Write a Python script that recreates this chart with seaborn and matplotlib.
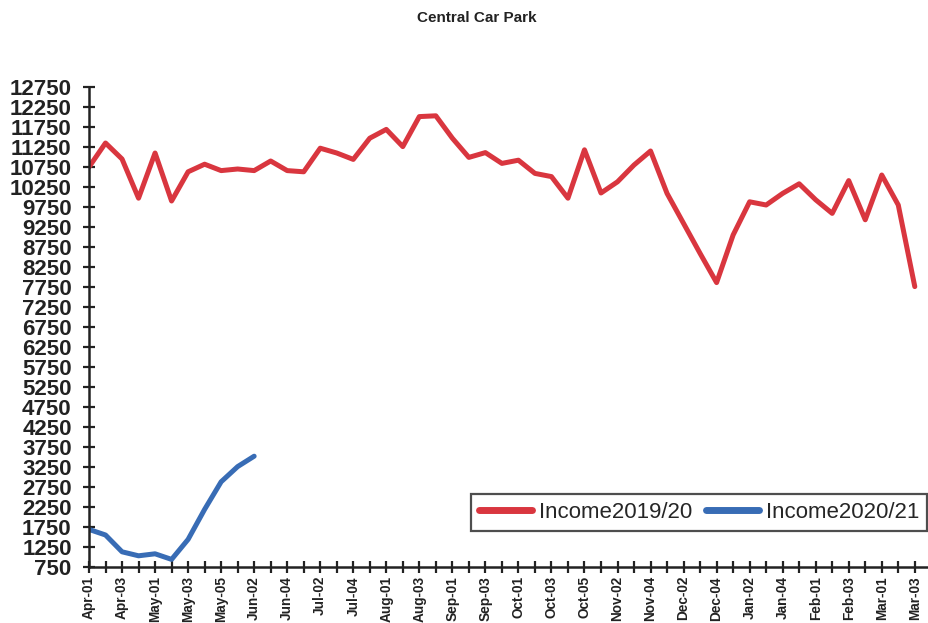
import numpy as np
import pandas as pd
import matplotlib
matplotlib.use('Agg')
import matplotlib.pyplot as plt
import seaborn as sns

# week labels for the financial year (Apr -> Mar)
months = ['Apr', 'May', 'Jun', 'Jul', 'Aug', 'Sep', 'Oct', 'Nov', 'Dec', 'Jan', 'Feb', 'Mar']
weeks_in_month = [4, 5, 4, 5, 4, 4, 5, 4, 4, 5, 4, 3]
weeks = [f'{m}-{w:02d}' for m, n in zip(months, weeks_in_month) for w in range(1, n + 1)]

income_2019 = [10750, 11350, 10950, 9970, 11100, 9900, 10630, 10820, 10660, 10700,
               10660, 10900, 10660, 10630, 11220, 11100, 10940, 11470, 11690, 11260,
               12010, 12030, 11470, 10990, 11110, 10840, 10920, 10590, 10510, 9970,
               11180, 10100, 10380, 10800, 11150, 10090, 9340, 8590, 7860, 9050,
               9880, 9800, 10090, 10330, 9930, 9590, 10410, 9430, 10550, 9800, 7760]
income_2020 = [1690, 1550, 1130, 1030, 1080, 940, 1440, 2190, 2880, 3260, 3520]

df = pd.DataFrame({'week': np.arange(len(weeks)), 'Income2019/20': income_2019})
df['Income2020/21'] = pd.Series(income_2020)
long = df.melt(id_vars='week', var_name='series', value_name='income').dropna()

sns.set_style('white')
plt.rcParams['font.family'] = ['Liberation Sans', 'DejaVu Sans']

fig = plt.figure(figsize=(9.29, 6.23), dpi=100)
ax = fig.add_axes([89 / 929, 1 - 567 / 623, (928 - 89) / 929, (567 - 87) / 623])
palette = {'Income2019/20': '#d9363f', 'Income2020/21': '#386cb5'}
sns.lineplot(data=long, x='week', y='income', hue='series', palette=palette,
             linewidth=3.6, ax=ax)

ax.set_xlim(0, 50.8)
ax.set_ylim(750, 12750)
ax.set_yticks(np.arange(750, 12751, 500))
ax.set_yticklabels([str(v) for v in range(750, 12751, 500)], fontsize=16, fontweight='bold')
ax.set_xticks(np.arange(len(weeks)))
ax.set_xticklabels([w if i % 2 == 0 else '' for i, w in enumerate(weeks)],
                   rotation=90, fontsize=9.8, fontweight='bold')
ax.tick_params(axis='both', direction='inout', length=9, width=1.6, color='#222222',
               labelcolor='#222222', pad=2, bottom=True, left=True)
ax.tick_params(axis='y', pad=8)
ax.set_xlabel('')
ax.set_ylabel('')
for s in ['top', 'right']:
    ax.spines[s].set_visible(False)
for s in ['left', 'bottom']:
    ax.spines[s].set_color('#222222')
    ax.spines[s].set_linewidth(1.8)

leg = ax.legend(loc='lower right', bbox_to_anchor=(0.9985, 0.075), ncol=2, title=None,
                fontsize=16, handlelength=2.4, handletextpad=0.3, columnspacing=0.6,
                frameon=True, fancybox=False, borderpad=0.35, borderaxespad=0)
leg.get_frame().set_edgecolor('#222222')
leg.get_frame().set_linewidth(1.6)
for line in leg.get_lines():
    line.set_linewidth(5)

fig.text(477 / 929, 1 - 18 / 623, 'Central Car Park', ha='center', va='center',
         fontsize=11, fontweight='bold', color='#222222')

fig.savefig('out.png', dpi=100)
